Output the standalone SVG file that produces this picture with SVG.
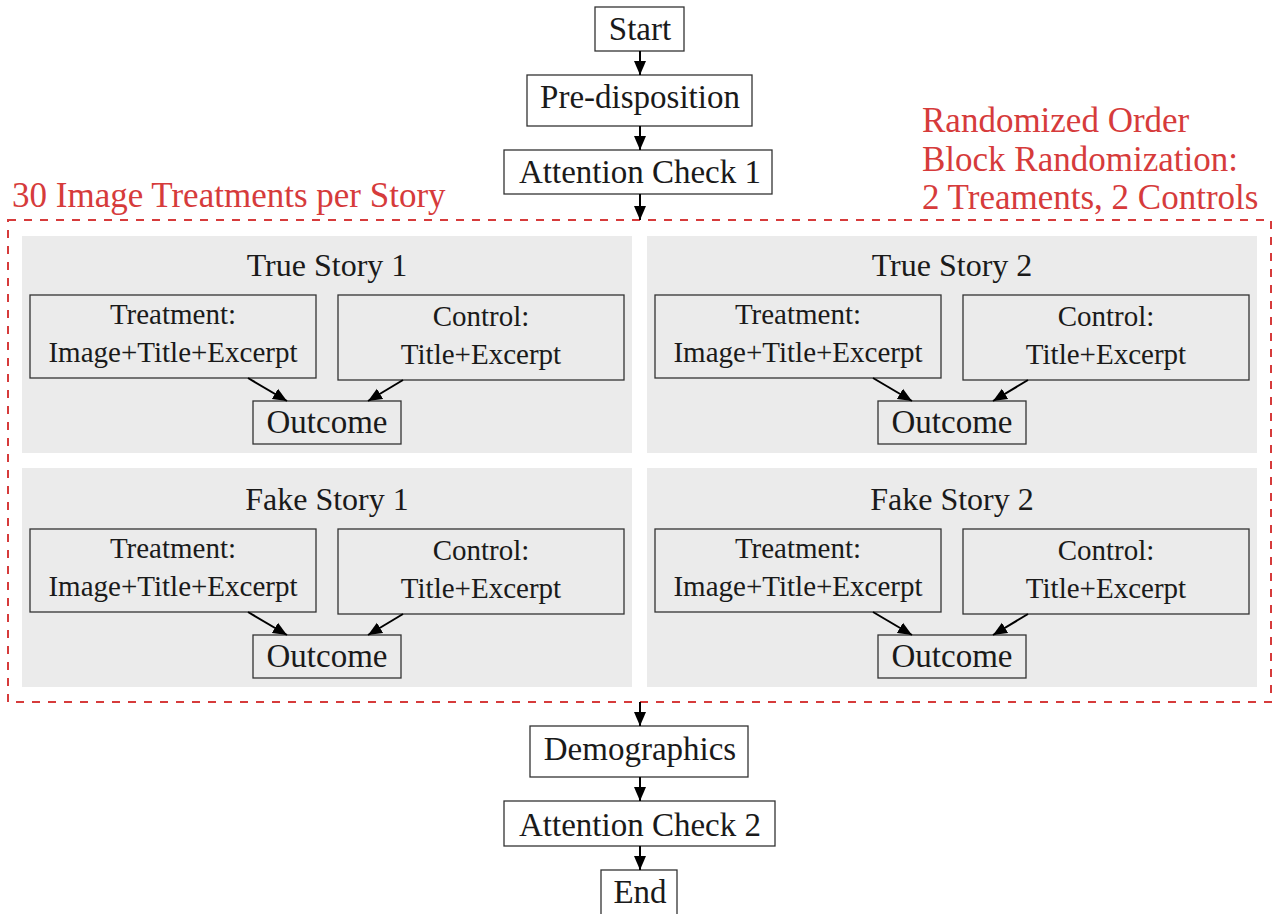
<svg xmlns="http://www.w3.org/2000/svg" width="1277" height="914" viewBox="0 0 1277 914">
<defs>
<style>
text{font-family:"Liberation Serif","Times New Roman",serif;fill:#1a1a1a;text-anchor:middle}
.main{font-size:33px}
.red{font-size:35px;fill:#d63b3b;text-anchor:start}
.title{font-size:32px}
.inner{font-size:29px}
.box{fill:#fff;stroke:#333;stroke-width:1.3}
.ibox{fill:#ebebeb;stroke:#333;stroke-width:1.3}
.panel{fill:#ebebeb;stroke:none}
.edge{stroke:#000;stroke-width:2;fill:none;marker-end:url(#ah)}
</style>
<marker id="ah" viewBox="0 0 14 14" refX="14" refY="7" markerWidth="14" markerHeight="14" markerUnits="userSpaceOnUse" orient="auto">
<path d="M0,1 L14,7 L0,13 Z" fill="#000"/>
</marker>
</defs>
<rect width="1277" height="914" fill="#fff"/>

<g id="block">
<rect x="8" y="220" width="1263" height="482" fill="none" stroke="#d63b3b" stroke-width="2" stroke-dasharray="8,8"/>
<text class="red" x="12" y="207">30 Image Treatments per Story</text>
<text class="red" x="922" y="132">Randomized Order</text>
<text class="red" x="922" y="171">Block Randomization:</text>
<text class="red" x="922" y="209">2 Treaments, 2 Controls</text>
</g>

<g id="start"><rect class="box" x="595" y="7" width="89" height="44"/><text class="main" x="640" y="40">Start</text></g>
<g id="predisposition"><rect class="box" x="527" y="75" width="225" height="51"/><text class="main" x="640" y="108">Pre-disposition</text></g>
<g id="attention1"><rect class="box" x="504" y="150" width="268" height="44"/><text class="main" x="640" y="183">Attention Check 1</text></g>
<g id="demographics"><rect class="box" x="530" y="726" width="218" height="51"/><text class="main" x="640" y="760">Demographics</text></g>
<g id="attention2"><rect class="box" x="504" y="801" width="271" height="45"/><text class="main" x="640" y="836">Attention Check 2</text></g>
<g id="end"><rect class="box" x="601" y="870" width="76" height="50"/><text class="main" x="640" y="903">End</text></g>

<g id="true1">
<rect class="panel" x="22" y="236" width="610" height="217"/>
<text class="title" x="327" y="276">True Story 1</text>
<rect class="ibox" x="30" y="295" width="286" height="83"/>
<text class="inner" x="173" y="324">Treatment:</text>
<text class="inner" x="173" y="362">Image+Title+Excerpt</text>
<rect class="ibox" x="338" y="295" width="286" height="85"/>
<text class="inner" x="481" y="326">Control:</text>
<text class="inner" x="481" y="364">Title+Excerpt</text>
<rect class="ibox" x="253" y="401" width="148" height="43"/>
<text class="main" x="327" y="433">Outcome</text>
</g>
<g id="true2">
<rect class="panel" x="647" y="236" width="610" height="217"/>
<text class="title" x="952" y="276">True Story 2</text>
<rect class="ibox" x="655" y="295" width="286" height="83"/>
<text class="inner" x="798" y="324">Treatment:</text>
<text class="inner" x="798" y="362">Image+Title+Excerpt</text>
<rect class="ibox" x="963" y="295" width="286" height="85"/>
<text class="inner" x="1106" y="326">Control:</text>
<text class="inner" x="1106" y="364">Title+Excerpt</text>
<rect class="ibox" x="878" y="401" width="148" height="43"/>
<text class="main" x="952" y="433">Outcome</text>
</g>
<g id="fake1">
<rect class="panel" x="22" y="468" width="610" height="219"/>
<text class="title" x="327" y="510">Fake Story 1</text>
<rect class="ibox" x="30" y="529" width="286" height="83"/>
<text class="inner" x="173" y="558">Treatment:</text>
<text class="inner" x="173" y="596">Image+Title+Excerpt</text>
<rect class="ibox" x="338" y="529" width="286" height="85"/>
<text class="inner" x="481" y="560">Control:</text>
<text class="inner" x="481" y="598">Title+Excerpt</text>
<rect class="ibox" x="253" y="635" width="148" height="43"/>
<text class="main" x="327" y="667">Outcome</text>
</g>
<g id="fake2">
<rect class="panel" x="647" y="468" width="610" height="219"/>
<text class="title" x="952" y="510">Fake Story 2</text>
<rect class="ibox" x="655" y="529" width="286" height="83"/>
<text class="inner" x="798" y="558">Treatment:</text>
<text class="inner" x="798" y="596">Image+Title+Excerpt</text>
<rect class="ibox" x="963" y="529" width="286" height="85"/>
<text class="inner" x="1106" y="560">Control:</text>
<text class="inner" x="1106" y="598">Title+Excerpt</text>
<rect class="ibox" x="878" y="635" width="148" height="43"/>
<text class="main" x="952" y="667">Outcome</text>
</g>

<g id="connectors">
<path class="edge" d="M640,51 L640,75"/>
<path class="edge" d="M640,126 L640,150"/>
<path class="edge" d="M640,194 L640,220"/>
<path class="edge" d="M640,702 L640,726"/>
<path class="edge" d="M640,777 L640,801"/>
<path class="edge" d="M640,846 L640,870"/>
<path class="edge" d="M248,378 L287,401"/>
<path class="edge" d="M403,380 L368,401"/>
<path class="edge" d="M873,378 L912,401"/>
<path class="edge" d="M1028,380 L993,401"/>
<path class="edge" d="M248,612 L287,635"/>
<path class="edge" d="M403,614 L368,635"/>
<path class="edge" d="M873,612 L912,635"/>
<path class="edge" d="M1028,614 L993,635"/>
</g>
</svg>
